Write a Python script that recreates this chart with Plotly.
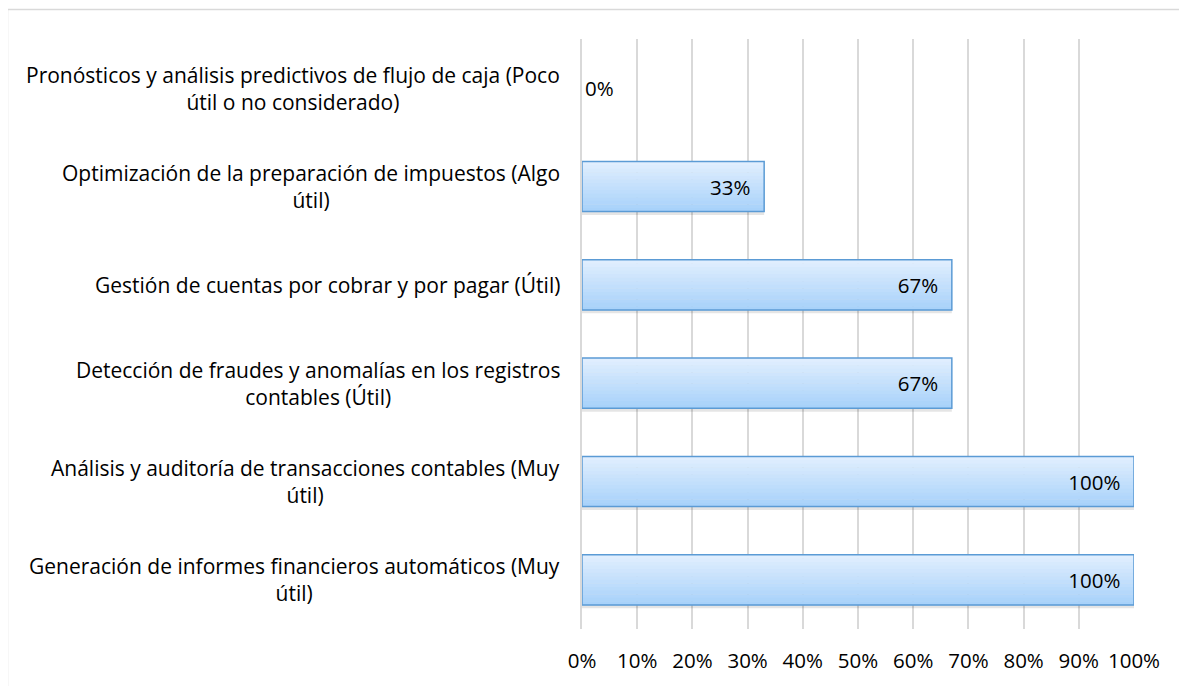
import plotly.graph_objects as go

categories = [
    "Pronósticos y análisis predictivos de flujo de caja (Poco<br>útil o no considerado)",
    "Optimización de la preparación de impuestos (Algo<br>útil)",
    "Gestión de cuentas por cobrar y por pagar (Útil)",
    "Detección de fraudes y anomalías en los registros<br>contables (Útil)",
    "Análisis y auditoría de transacciones contables (Muy<br>útil)",
    "Generación de informes financieros automáticos (Muy<br>útil)",
]
values = [0, 33, 67, 67, 100, 100]
tick_vals = [0, 10, 20, 30, 40, 50, 60, 70, 80, 90, 100]
tick_text = [f"{v}%" for v in tick_vals]

FONT = "Open Sans"
LABEL_SIZE = 21
NUM_SIZE = 20.5
labels = [f"{v}%\u00a0\u00a0" if v else f"{v}%" for v in values]
positions = ["outside" if v == 0 else "inside" for v in values]
outline_w = [1.5 if v else 0 for v in values]

BAR_W = 0.51
N = 14
top = (0xE0, 0xEE, 0xFE)
bot = (0xA8, 0xD2, 0xFA)

fig = go.Figure()
# soft shadow
fig.add_trace(go.Bar(
    y=categories, x=values, orientation="h",
    width=BAR_W, offset=-BAR_W / 2 + 0.035,
    marker=dict(color="rgba(0,0,0,0.10)", line=dict(width=0)),
    hoverinfo="skip", showlegend=False,
))
# vertical gradient strips
for i in range(N):
    t = i / (N - 1)
    col = tuple(round(top[k] + (bot[k] - top[k]) * t) for k in range(3))
    fig.add_trace(go.Bar(
        y=categories, x=values, orientation="h",
        width=BAR_W / N + 0.004, offset=-BAR_W / 2 + i * BAR_W / N,
        marker=dict(color="rgb(%d,%d,%d)" % col, line=dict(width=0)),
        hoverinfo="skip", showlegend=False,
    ))
# outline + labels
fig.add_trace(go.Bar(
    y=categories, x=values, orientation="h",
    width=BAR_W, offset=-BAR_W / 2,
    text=labels, textposition=positions,
    insidetextanchor="end",
    textfont=dict(family=FONT, size=NUM_SIZE, color="#000000"),
    marker=dict(color="rgba(0,0,0,0)", line=dict(color="#5B9BD5", width=outline_w)),
    cliponaxis=False, showlegend=False,
))

for c in categories:
    fig.add_annotation(
        x=0, xref="paper", xanchor="right", xshift=-20,
        y=c, yref="y", yanchor="middle",
        text=c, align="center", showarrow=False,
        font=dict(family=FONT, size=LABEL_SIZE, color="#000000"),
    )

fig.add_shape(type="rect", xref="paper", yref="paper",
              x0=-1.0408, x1=1.11, y0=-0.12, y1=1.05,
              line=dict(color="#D9D9D9", width=1.5), layer="below")

fig.update_layout(
    width=1187, height=686,
    margin=dict(l=574, r=61, t=31, b=65),
    paper_bgcolor="white", plot_bgcolor="white",
    barmode="overlay",
    font=dict(family=FONT, size=NUM_SIZE, color="#000000"),
    xaxis=dict(range=[0, 100], tickvals=tick_vals, ticktext=tick_text,
               showgrid=True, gridcolor="#D9D9D9", gridwidth=1.5,
               zeroline=False, showline=False, ticks="",
               ticklabelstandoff=17,
               tickfont=dict(family=FONT, size=NUM_SIZE, color="#000000")),
    yaxis=dict(autorange="reversed", showticklabels=False, showgrid=False,
               zeroline=False, showline=True, linecolor="#D9D9D9",
               linewidth=1.5, ticks=""),
)

fig.write_html("out.html")
